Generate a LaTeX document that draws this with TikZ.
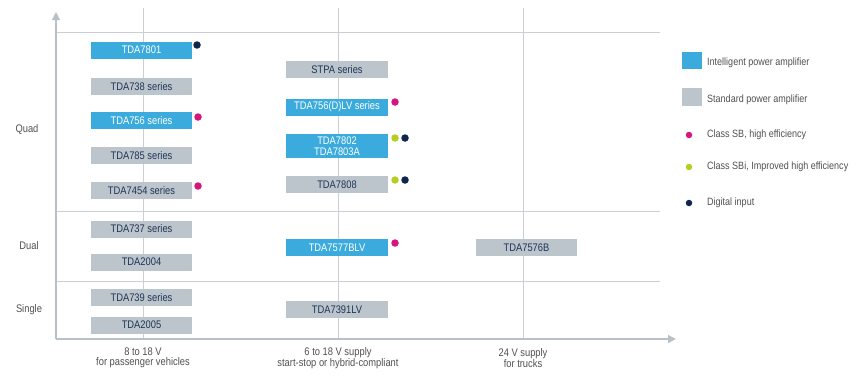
\documentclass[tikz,border=0pt]{standalone}
\usepackage{fontspec}
\setmainfont[FakeStretch=0.85]{Liberation Sans}
\usetikzlibrary{arrows.meta}
\definecolor{ipablue}{HTML}{3BAADC}
\definecolor{spagray}{HTML}{BDC5CC}
\definecolor{boxtext}{HTML}{1E3557}
\definecolor{gridc}{HTML}{C9CFD4}
\definecolor{axisc}{HTML}{B9C1C8}
\definecolor{labc}{HTML}{505050}
\definecolor{dotpink}{HTML}{D6157F}
\definecolor{dotlime}{HTML}{B7CD22}
\definecolor{dotnavy}{HTML}{10244E}
\tikzset{
  chip/.style={inner sep=0pt, minimum width=101pt, minimum height=17pt, font=\fontsize{11}{11}\selectfont, align=center},
  ipa/.style={chip, fill=ipablue, text=white},
  spa/.style={chip, fill=spagray, text=boxtext},
  dotc/.style={circle, inner sep=0pt, minimum size=7.5pt},
  grid/.style={gridc, line width=0.8pt},
  axisline/.style={axisc, line width=1.2pt, -{Triangle[length=8pt,width=8pt]}},
  lab/.style={text=labc, font=\fontsize{11}{10}\selectfont, align=center, inner sep=0pt},
  legtext/.style={text=labc, font=\fontsize{10.6}{11}\selectfont, anchor=west, inner sep=0pt}
}
\begin{document}
\begin{tikzpicture}[x=1pt,y=-1pt]
\useasboundingbox (0,0) rectangle (856,380);
% grid
\draw[grid] (56,32) -- (660,32);
\draw[grid] (56,211) -- (660,211);
\draw[grid] (56,281) -- (660,281);
\draw[grid] (143,8) -- (143,339);
\draw[grid] (338,8) -- (338,339);
\draw[grid] (523,8) -- (523,339);
% axes
\draw[axisline] (56,339) -- (56,12);
\draw[axisline] (56,339) -- (676,339);
% row labels
\node[lab] (quad) at (27,130) {Quad};
\node[lab] (dual) at (29,246) {Dual};
\node[lab] (single) at (29,310) {Single};
% column labels
\node[lab] (c1) at (143,358) {8 to 18 V\\for passenger vehicles};
\node[lab] (c2) at (338,358) {6 to 18 V supply\\start-stop or hybrid-compliant};
\node[lab] (c3) at (523,358) {24 V supply\\for trucks};
% left column
\node[ipa] (tda7801) at (141.5,50) {TDA7801};
\node[spa] (tda738) at (141.5,86.5) {TDA738 series};
\node[ipa] (tda756) at (141.5,120.5) {TDA756 series};
\node[spa] (tda785) at (141.5,155.5) {TDA785 series};
\node[spa] (tda7454) at (141.5,190.5) {TDA7454 series};
\node[spa] (tda737) at (141.5,229) {TDA737 series};
\node[spa] (tda2004) at (141.5,262) {TDA2004};
\node[spa] (tda739) at (141.5,297.5) {TDA739 series};
\node[spa] (tda2005) at (141.5,325) {TDA2005};
% middle column
\node[spa, minimum width=102pt] (stpa) at (337,69.5) {STPA series};
\node[ipa, minimum width=102pt] (tda756dlv) at (337,107) {TDA756(D)LV series};
\node[ipa, minimum width=102pt, minimum height=24pt] (tda7802) at (337,146) {TDA7802\\TDA7803A};
\node[spa, minimum width=102pt] (tda7808) at (337,184.5) {TDA7808};
\node[ipa, minimum width=102pt] (tda7577) at (337,247.5) {TDA7577BLV};
\node[spa, minimum width=102pt] (tda7391) at (337,309.5) {TDA7391LV};
% right column
\node[spa] (tda7576) at (526.5,247.5) {TDA7576B};
% dots
\node[dotc, fill=dotnavy] (d7801) at (197,45) {};
\node[dotc, fill=dotpink] (d756) at (198,117) {};
\node[dotc, fill=dotpink] (d7454) at (198,186) {};
\node[dotc, fill=dotpink] (d756dlv) at (395,102) {};
\node[dotc, fill=dotlime] (d7802a) at (395,138) {};
\node[dotc, fill=dotnavy] (d7802b) at (405,138) {};
\node[dotc, fill=dotlime] (d7808a) at (395,180) {};
\node[dotc, fill=dotnavy] (d7808b) at (405,180) {};
\node[dotc, fill=dotpink] (d7577) at (395,243) {};
% legend
\node[fill=ipablue, minimum width=20pt, minimum height=17pt, inner sep=0pt] (legipa) at (692,60.5) {};
\node[legtext] (legipat) at (707,63) {Intelligent power amplifier};
\node[fill=spagray, minimum width=20pt, minimum height=18pt, inner sep=0pt] (legspa) at (692,97) {};
\node[legtext] (legspat) at (707,100) {Standard power amplifier};
\node[dotc, fill=dotpink, minimum size=6.5pt] (legsb) at (689,135) {};
\node[legtext] (legsbt) at (707,135) {Class SB, high efficiency};
\node[dotc, fill=dotlime, minimum size=6.5pt] (legsbi) at (689,167) {};
\node[legtext] (legsbit) at (707,167) {Class SBi, Improved high efficiency};
\node[dotc, fill=dotnavy, minimum size=6.5pt] (legdi) at (689,203) {};
\node[legtext] (legdit) at (707,203) {Digital input};
\end{tikzpicture}
\end{document}
